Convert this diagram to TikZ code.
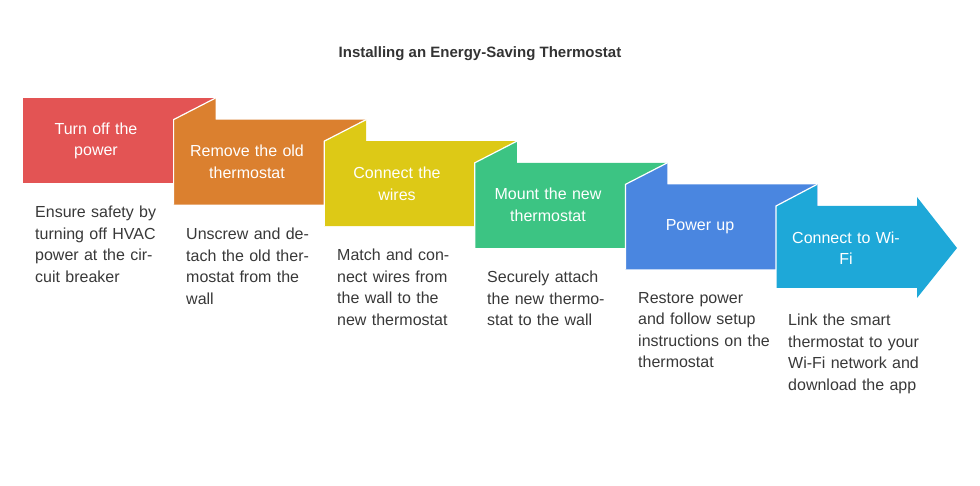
\documentclass[tikz,border=0pt]{standalone}
\usepackage{fontspec}
\setmainfont{Liberation Sans}
\begin{document}
\begin{tikzpicture}[x=1pt,y=-1pt,
  stepshape/.style={draw=white,line width=1pt,line join=miter},
  ttl/.style={text=white,font=\fontsize{16}{21.5}\selectfont,align=center,text width=135pt,anchor=center},
  desc/.style={text=black!78,font=\fontsize{16}{21.5}\selectfont,align=left,text width=135pt,anchor=north west,inner sep=0pt}]
\definecolor{c1}{HTML}{E35454}
\definecolor{c2}{HTML}{DB802F}
\definecolor{c3}{HTML}{DDC916}
\definecolor{c4}{HTML}{3CC483}
\definecolor{c5}{HTML}{4A86E0}
\definecolor{c6}{HTML}{1EA8D8}
\useasboundingbox (0,0) rectangle (980,486);
\node[font=\fontsize{15}{18}\selectfont\bfseries,text=black!80] (title) at (480,54) {Installing an Energy-Saving Thermostat};
% box 1
\path[fill=c1] (23,98) rectangle (215,183);
% boxes 2..5
\foreach \i/\c in {1/c2,2/c3,3/c4,4/c5}{
  \pgfmathsetmacro\xx{23+150.6*\i}
  \pgfmathsetmacro\yy{98+21.6*\i}
  \path[fill=\c] (\xx,\yy+85) -- (\xx,\yy) -- (\xx+42,\yy-21.6) -- (\xx+42,\yy) -- (\xx+192,\yy) -- (\xx+192,\yy+85) -- cycle;
  \draw[white,line width=1.2pt] (\xx,\yy+85) -- (\xx,\yy) -- (\xx+42,\yy-21.6);
}
% last arrow
\path[fill=c6] (776,288) -- (776,206) -- (817,184.4) -- (817,206) -- (917,206) -- (917,197) -- (957,248) -- (917,298) -- (917,288) -- cycle;
\draw[white,line width=1.2pt] (776,288) -- (776,206) -- (817,184.4);
\node[ttl] (t1) at (96,141) {Turn off the\\power};
\node[ttl] (t2) at (247,162) {Remove the old\\thermostat};
\node[ttl] (t3) at (397,184) {Connect the\\wires};
\node[ttl] (t4) at (548,205) {Mount the new\\thermostat};
\node[ttl] (t5) at (700,227) {Power up};
\node[ttl] (t6) at (846,248) {Connect to Wi-\\Fi};
\node[desc] (d1) at (35,206) {Ensure safety by turning off HVAC power at the circuit breaker};
\node[desc] (d2) at (186,228) {Unscrew and detach the old thermostat from the wall};
\node[desc] (d3) at (337,249) {Match and connect wires from the wall to the new thermostat};
\node[desc] (d4) at (487,271) {Securely attach the new thermostat to the wall};
\node[desc] (d5) at (638,292) {Restore power and follow setup instructions on the thermostat};
\node[desc] (d6) at (788,314) {Link the smart thermostat to your Wi-Fi network and download the app};
\end{tikzpicture}
\end{document}
